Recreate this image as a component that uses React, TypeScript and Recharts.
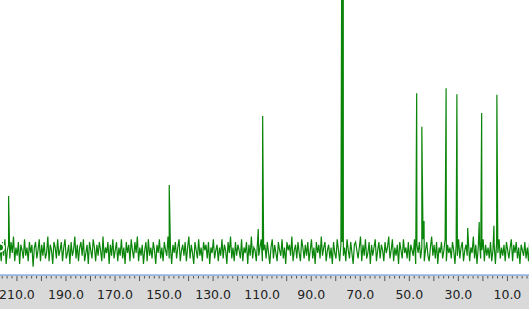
import React from "react";
import { LineChart, Line, XAxis, YAxis } from "recharts";

// 13C spectrum: chemical shift (ppm) axis runs right-to-left
const labelTicks = [210, 190, 170, 150, 130, 110, 90, 70, 50, 30, 10];
const tickStep = 2;
const majorEvery = 10;

// baseline noise, sampled every 0.5 ppm starting at 216.9 ppm
const noiseStart = 216.9;
const noiseStep = 0.5;
const noise = [
  10, 5, 12, 7, 13, 4, 9, 11, 6, 12,
  8, 14, 5, 10, 7, 12, 4, 11, 9, 6,
  13, 7, 10, 5, 12, 8, 11, 3, 10, 12,
  6, 9, 13, 5, 11, 7, 12, 6, 8, 14,
  5, 11, 9, 4, 12, 10, 6, 13, 7, 9,
  12, 5, 10, 13, 6, 8, 11, 4, 12, 7,
  9, 14, 6, 11, 5, 10, 12, 7, 13, 5,
  8, 11, 4, 12, 9, 6, 13, 10, 5, 11,
  7, 12, 9, 5, 14, 6, 10, 8, 12, 4,
  11, 7, 13, 6, 9, 12, 5, 10, 7, 13,
  6, 10, 4, 12, 8, 11, 5, 13, 9, 6,
  12, 8, 14, 5, 10, 7, 11, 4, 9, 12,
  5, 13, 7, 10, 6, 12, 9, 4, 11, 8,
  13, 6, 10, 5, 12, 9, 7, 14, 6, 10,
  4, 11, 8, 12, 6, 10, 13, 5, 9, 11,
  7, 12, 5, 10, 14, 6, 11, 8, 4, 12,
  9, 6, 13, 7, 10, 5, 12, 9, 11, 6,
  12, 4, 10, 8, 13, 6, 9, 11, 5, 10,
  7, 13, 6, 11, 9, 4, 12, 8, 14, 6,
  10, 5, 12, 7, 11, 9, 6, 13, 5, 10,
  8, 12, 4, 11, 7, 14, 6, 10, 9, 5,
  12, 7, 10, 13, 5, 9, 11, 6, 12, 8,
  4, 10, 13, 6, 11, 8, 5, 12, 9, 7,
  13, 6, 10, 4, 12, 9, 11, 7, 14, 5,
  9, 11, 6, 12, 8, 5, 13, 10, 6, 11,
  7, 12, 5, 9, 13, 6, 10, 4, 12, 8,
  11, 6, 14, 7, 10, 12, 5, 9, 11, 6,
  10, 4, 12, 8, 6, 13, 9, 5, 11, 12,
  7, 10, 5, 13, 9, 6, 12, 8, 4, 11,
  12, 9, 6, 10, 14, 5, 11, 7, 13, 6,
  8, 12, 4, 11, 7, 10, 13, 5, 9, 12,
  6, 11, 9, 5, 12, 8, 10, 14, 6, 9,
  13, 5, 10, 7, 11, 4, 12, 9, 6, 13,
  8, 10, 6, 12, 5, 11, 9, 7, 13, 4,
  11, 8, 12, 6, 10, 13, 5, 9, 12, 7,
  5, 10, 14, 7, 11, 6, 12, 4, 10, 8,
  12, 6, 9, 13, 5, 11, 8, 10, 6, 12,
  9, 4, 11, 7, 13, 6, 10, 12, 5, 9,
  11, 7, 12, 5, 10, 8, 14, 6, 11, 4,
  10, 12, 6, 9, 13, 5, 11, 7, 10, 6,
  12, 5, 9, 11, 4, 12, 8, 13, 6, 10,
  7, 11, 5, 12, 9, 6, 10, 13, 5, 11,
  8, 12, 6, 10, 4, 11, 9, 7, 12, 6,
  10, 5, 13, 8, 11, 6, 9, 12, 7, 10,
];

// peaks: shift (ppm) and intensity
const peakShifts = [213.4, 147.9, 111.6, 109.8, 77.45, 77.2, 76.95, 47.0, 44.9, 44.0, 35.0, 30.6, 26.2, 21.5, 20.5, 15.5, 14.3];
const peakHeights = [28.7, 32.7, 16.7, 57.8, 150, 160, 150, 66.1, 53.9, 19.6, 67.9, 65.7, 17.1, 19.3, 58.9, 17.9, 65.5];

const spectrum = [
  ...noise.map((v, i) => ({ ppm: +(noiseStart - i * noiseStep).toFixed(2), y: v })),
  ...peakShifts.map((p, i) => ({ ppm: p, y: peakHeights[i] })),
].sort((a, b) => b.ppm - a.ppm);

const allTicks: number[] = [];
for (let t = 216; t >= 2; t -= tickStep) allTicks.push(t);

const PpmTick = (props: any) => {
  const { x, y, payload } = props;
  const v = payload.value;
  const major = v % majorEvery === 0;
  const showLabel = labelTicks.includes(v);
  return (
    <g>
      <line x1={x} x2={x} y1={y + 1} y2={y + (major ? 6 : 3.5)} stroke="#555" strokeWidth={1} />
      {showLabel && (
        <text x={x} y={y + 24} textAnchor="middle" fontSize={12.5} fill="#222" fontFamily="DejaVu Sans">
          {v.toFixed(1)}
        </text>
      )}
    </g>
  );
};

export default function App() {
  return (
    <div
      style={{
        position: "absolute",
        left: 0,
        top: 0,
        width: 529,
        height: 309,
        background: "linear-gradient(to bottom, #ffffff 275px, #d9d9d9 275px)",
      }}
    >
      <LineChart width={529} height={309} data={spectrum} margin={{ top: 0, right: 0, bottom: 0, left: 0 }}>
        <XAxis
          type="number"
          dataKey="ppm"
          domain={[1.2, 216.9]}
          reversed
          allowDataOverflow
          ticks={allTicks}
          interval={0}
          tick={<PpmTick />}
          tickLine={false}
          tickSize={0}
          tickMargin={0}
          height={34}
          axisLine={{ stroke: "#5a8fd8", strokeWidth: 1 }}
        />
        <YAxis hide domain={[0, 100]} allowDataOverflow />
        <Line
          type="linear"
          dataKey="y"
          stroke="#0a850a"
          strokeWidth={1.2}
          dot={false}
          isAnimationActive={false}
        />
      </LineChart>
    </div>
  );
}
